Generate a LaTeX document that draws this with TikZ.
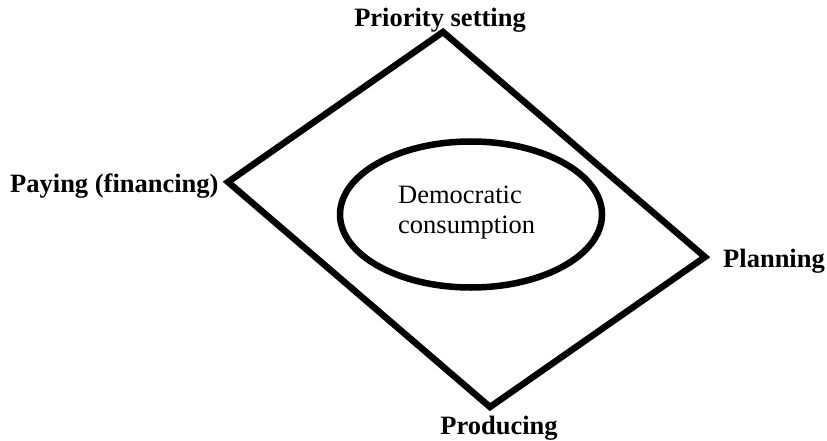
\documentclass[tikz,border=0pt]{standalone}
\usepackage{fontspec}
\setmainfont{Liberation Serif}
\usetikzlibrary{shapes.geometric}
\tikzset{
  frame/.style={line width=6.5pt, line join=miter, miter limit=10},
  lbl/.style={font=\fontsize{26.5}{30}\selectfont\bfseries, inner sep=0pt},
  inner/.style={font=\fontsize{26.5}{30}\selectfont, inner sep=0pt, align=left},
  oval/.style={draw, ellipse, line width=6.5pt, minimum width=262pt, minimum height=146pt, inner sep=0pt}
}
\begin{document}
\begin{tikzpicture}[x=1pt,y=-1pt]
\useasboundingbox (0,0) rectangle (827,441);
\coordinate (T) at (443,32);
\coordinate (L) at (228,182);
\coordinate (R) at (705,257);
\coordinate (B) at (490,407);
\draw[frame] (T) -- (R) -- (B) -- (L) -- cycle;
\node[oval] (dc) at (471,214.5) {};
\node[inner, anchor=base west] (dct) at (398,233) {Democratic\\consumption};
\node[lbl, anchor=base] (ps) at (440,27) {Priority setting};
\node[lbl, anchor=base west] (pf) at (10,192) {Paying (financing)};
\node[lbl, anchor=base west] (pl) at (723,267) {Planning};
\node[lbl, anchor=base] (pr) at (499,434.5) {Producing};
\end{tikzpicture}
\end{document}
